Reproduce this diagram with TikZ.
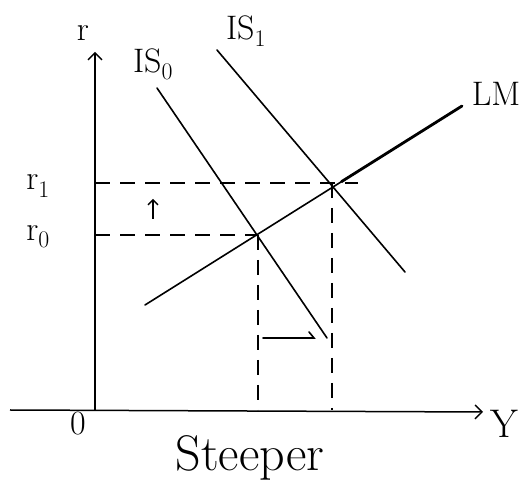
\documentclass[tikz,border=0pt]{standalone}
\usetikzlibrary{arrows.meta,calc}
\begin{document}
\begin{tikzpicture}[x=1pt,y=-1pt,
  curve/.style={line width=1.6pt,line cap=round},
  axis/.style={line width=1.5pt,-{Straight Barb[length=7pt,width=14pt,line width=1.4pt]}},
  guide/.style={line width=1.4pt,dash pattern=on 15pt off 10pt},
  lbl/.style={inner sep=1pt,font=\fontsize{34}{38}\selectfont},
  rlbl/.style={inner sep=1pt,font=\fontsize{34}{38}\selectfont},
  small arrow/.style={line width=1.4pt,-{Straight Barb[length=5pt,width=10pt,line width=1.3pt]}}]
\useasboundingbox (0,0) rectangle (523,502);
% axes
\coordinate (O) at (95,411);
\coordinate (ytop) at (95,52);
\coordinate (xleft) at (10,410);
\coordinate (xright) at (483,412);
\draw[axis] (O) -- (ytop);
\draw[axis] (xleft) -- (xright);
\node[rlbl] (rlab) at (83,33) {r};
\node[inner sep=1pt,font=\fontsize{40}{44}\selectfont] (ylab) at (504,424) {Y};
\node[rlbl] (olab) at (78,424) {0};
% curves
\coordinate (is0a) at (157,88);
\coordinate (is0b) at (327,338);
\coordinate (is1a) at (217,50);
\coordinate (is1b) at (405,272);
\coordinate (lma) at (145,305);
\coordinate (lmb) at (462,106);
\draw[curve] (is0a) -- (is0b);
\draw[curve] (is1a) -- (is1b);
\draw[curve] (lma) -- (lmb);
\draw[line width=2.8pt,line cap=round] ($(lma)!0.62!(lmb)$) -- (lmb);
\node[lbl] (is0lab) at (153,64) {IS\textsubscript{0}};
\node[lbl] (is1lab) at (246,31) {IS\textsubscript{1}};
\node[lbl] (lmlab) at (496,94) {LM};
% equilibria
\coordinate (E0) at (258,235);
\coordinate (E1) at (332,183);
\coordinate (r0) at (95,235);
\coordinate (r1) at (95,183);
\coordinate (r1end) at (358,183);
\coordinate (Y0) at (258,410);
\coordinate (Y1) at (332,410);
\draw[guide] (r1) -- (r1end);
\draw[guide] (r0) -- (E0);
\draw[guide] (E0) -- (Y0);
\draw[guide] (E1) -- (Y1);
\node[rlbl] (r1lab) at (38,186) {r\textsubscript{1}};
\node[rlbl] (r0lab) at (38,237) {r\textsubscript{0}};
% shift arrows
\coordinate (ua) at (153,219);
\coordinate (ub) at (153,199);
\draw[small arrow] (ua) -- (ub);
\coordinate (ha) at (263,338);
\coordinate (hb) at (314,338);
\draw[line width=1.6pt,line cap=round] (ha) -- (hb) -- ++(-5,-6);
\node[inner sep=1pt,font=\fontsize{50}{54}\selectfont] (steep) at (250,458) {Steeper};
\end{tikzpicture}
\end{document}
